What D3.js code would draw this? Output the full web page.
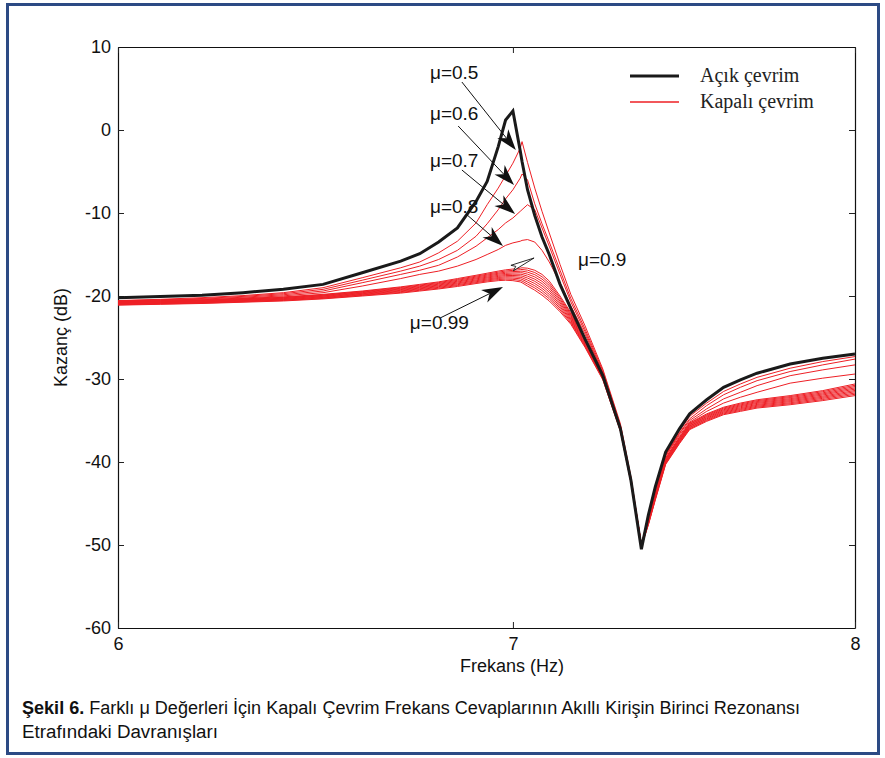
<!DOCTYPE html>
<html>
<head>
<meta charset="UTF-8">
<title>Şekil 6</title>
<style type="text/css">
	body {
		margin: 0;
		background: #fff;
	}
	.chartBox {
		width: 885px;
		height: 758px;
		position: relative;
	}
</style>
</head>
<body>
<div class="chartBox"></div>

<script src="https://cdn.jsdelivr.net/npm/d3@7/dist/d3.min.js"></script>
<script type="text/javascript">
	//frekans noktalari (Hz)
	var freqs = [6.0, 6.1, 6.2, 6.3, 6.4, 6.5, 6.6, 6.7, 6.75, 6.8, 6.85, 6.9, 6.93, 6.96, 6.98, 7.0,
		7.02, 7.025, 7.04, 7.06, 7.08, 7.1, 7.13, 7.16, 7.2, 7.25, 7.3, 7.33, 7.36, 7.38, 7.4,
		7.43, 7.47, 7.5, 7.55, 7.6, 7.65, 7.7, 7.8, 7.9, 8.0];

	//acik cevrim kazanci (dB)
	var acikCevrim = [-20.2, -20.05, -19.9, -19.6, -19.2, -18.6, -17.2, -15.8, -14.9, -13.5, -11.8, -8.6, -6.2, -2.0, 1.2, 2.3,
		-2.5, -3.8, -7.2, -10.3, -12.9, -15.0, -18.6, -21.5, -25.2, -29.6, -36.0, -42.2, -50.5, -46.4, -43.0,
		-38.8, -36.0, -34.2, -32.5, -31.0, -30.1, -29.3, -28.2, -27.5, -27.0];

	//kapali cevrim kazanci, her mu icin (dB)
	var mu050 = [-20.55, -20.4, -20.2, -19.95, -19.6, -19.0, -17.8, -16.6, -15.9, -14.8, -13.4, -11.2, -9.0, -7.0, -5.5, -4.0,
		-2.2, -1.4, -3.9, -7.0, -9.8, -12.4, -16.2, -19.8, -23.6, -28.8, -35.4, -41.8, -49.9, -46.6, -43.3,
		-39.0, -36.3, -34.5, -32.9, -31.5, -30.6, -29.8, -28.7, -27.9, -27.3];
	var mu060 = [-20.58, -20.45, -20.3, -20.05, -19.72, -19.2, -18.1, -17.0, -16.4, -15.6, -14.5, -12.8, -11.3, -9.6, -8.3, -7.2,
		-5.8, -5.3, -6.0, -8.9, -11.3, -13.5, -16.9, -20.3, -24.0, -29.0, -35.6, -41.9, -50.0, -46.7, -43.4,
		-39.1, -36.5, -34.8, -33.2, -31.9, -31.0, -30.2, -29.1, -28.3, -27.6];
	var mu070 = [-20.62, -20.5, -20.38, -20.15, -19.85, -19.4, -18.4, -17.4, -16.9, -16.3, -15.3, -14.0, -13.0, -12.0, -11.2, -10.6,
		-9.8, -9.6, -9.0, -9.6, -11.8, -14.0, -17.4, -20.7, -24.3, -29.2, -35.7, -42.0, -50.0, -46.8, -43.5,
		-39.2, -36.6, -35.0, -33.6, -32.4, -31.6, -30.8, -29.6, -28.9, -28.3];
	var mu080 = [-20.66, -20.55, -20.45, -20.25, -19.98, -19.6, -18.8, -17.9, -17.4, -17.0, -16.4, -15.6, -15.0, -14.4, -13.9, -13.6,
		-13.4, -13.3, -13.2, -13.5, -14.5, -15.9, -18.4, -21.2, -24.6, -29.3, -35.8, -42.1, -50.0, -46.9, -43.6,
		-39.3, -36.8, -35.2, -33.9, -32.9, -32.2, -31.6, -30.5, -29.9, -29.4];
	var mu090 = [-20.7, -20.6, -20.5, -20.3, -20.1, -19.8, -19.4, -18.9, -18.6, -18.3, -17.9, -17.5, -17.25, -17.0, -16.85, -16.75,
		-16.65, -16.6, -16.65, -16.9, -17.4, -18.2, -20.0, -22.0, -25.1, -29.4, -35.9, -42.1, -49.9, -47.0, -43.8,
		-39.5, -37.0, -35.3, -34.2, -33.4, -32.9, -32.5, -32.0, -31.4, -30.6];
	var mu091 = [-20.74, -20.64, -20.54, -20.35, -20.16, -19.86, -19.47, -18.98, -18.69, -18.39, -18.01, -17.61, -17.37, -17.13, -16.99, -16.91,
		-16.83, -16.8, -16.89, -17.17, -17.68, -18.47, -20.21, -22.16, -25.22, -29.48, -35.94, -42.14, -49.93, -47.07, -43.89,
		-39.59, -37.09, -35.39, -34.3, -33.5, -33.01, -32.61, -32.12, -31.53, -30.76];
	var mu092 = [-20.79, -20.69, -20.59, -20.4, -20.21, -19.92, -19.53, -19.07, -18.78, -18.49, -18.11, -17.72, -17.48, -17.26, -17.13, -17.06,
		-17.02, -17.0, -17.13, -17.43, -17.96, -18.73, -20.42, -22.31, -25.34, -29.56, -35.99, -42.19, -49.97, -47.13, -43.98,
		-39.68, -37.18, -35.48, -34.4, -33.6, -33.12, -32.72, -32.24, -31.67, -30.91];
	var mu093 = [-20.83, -20.73, -20.63, -20.45, -20.27, -19.98, -19.6, -19.15, -18.87, -18.58, -18.22, -17.83, -17.6, -17.38, -17.27, -17.22,
		-17.2, -17.2, -17.37, -17.7, -18.23, -19.0, -20.63, -22.47, -25.47, -29.63, -36.03, -42.23, -50.0, -47.2, -44.07,
		-39.77, -37.27, -35.57, -34.5, -33.7, -33.23, -32.83, -32.37, -31.8, -31.07];
	var mu094 = [-20.88, -20.78, -20.68, -20.5, -20.32, -20.04, -19.67, -19.23, -18.96, -18.68, -18.32, -17.94, -17.72, -17.51, -17.41, -17.37,
		-17.38, -17.4, -17.61, -17.97, -18.51, -19.27, -20.84, -22.62, -25.59, -29.71, -36.08, -42.28, -50.03, -47.27, -44.16,
		-39.86, -37.36, -35.66, -34.6, -33.8, -33.34, -32.94, -32.49, -31.93, -31.22];
	var mu095 = [-20.92, -20.82, -20.72, -20.55, -20.38, -20.11, -19.73, -19.32, -19.04, -18.77, -18.43, -18.06, -17.83, -17.64, -17.54, -17.53,
		-17.57, -17.6, -17.84, -18.23, -18.79, -19.53, -21.06, -22.78, -25.71, -29.79, -36.12, -42.32, -50.07, -47.33, -44.24,
		-39.94, -37.44, -35.74, -34.7, -33.9, -33.46, -33.06, -32.61, -32.07, -31.38];
	var mu096 = [-20.97, -20.87, -20.77, -20.6, -20.43, -20.17, -19.8, -19.4, -19.13, -18.87, -18.53, -18.17, -17.95, -17.77, -17.68, -17.68,
		-17.75, -17.8, -18.08, -18.5, -19.07, -19.8, -21.27, -22.93, -25.83, -29.87, -36.17, -42.37, -50.1, -47.4, -44.33,
		-40.03, -37.53, -35.83, -34.8, -34.0, -33.57, -33.17, -32.73, -32.2, -31.53];
	var mu097 = [-21.01, -20.91, -20.81, -20.65, -20.49, -20.23, -19.87, -19.48, -19.22, -18.96, -18.64, -18.28, -18.07, -17.89, -17.82, -17.84,
		-17.93, -18.0, -18.32, -18.77, -19.34, -20.07, -21.48, -23.09, -25.96, -29.94, -36.21, -42.41, -50.13, -47.47, -44.42,
		-40.12, -37.62, -35.92, -34.9, -34.1, -33.68, -33.28, -32.86, -32.33, -31.69];
	var mu098 = [-21.06, -20.96, -20.86, -20.7, -20.54, -20.29, -19.93, -19.57, -19.31, -19.06, -18.74, -18.39, -18.18, -18.02, -17.96, -17.99,
		-18.12, -18.2, -18.56, -19.03, -19.62, -20.33, -21.69, -23.24, -26.08, -30.02, -36.26, -42.46, -50.17, -47.53, -44.51,
		-40.21, -37.71, -36.01, -35.0, -34.2, -33.79, -33.39, -32.98, -32.47, -31.84];
	var mu099 = [-21.1, -21.0, -20.9, -20.75, -20.6, -20.35, -20.0, -19.65, -19.4, -19.15, -18.85, -18.5, -18.3, -18.15, -18.1, -18.15,
		-18.3, -18.4, -18.8, -19.3, -19.9, -20.6, -21.9, -23.4, -26.2, -30.1, -36.3, -42.5, -50.2, -47.6, -44.6,
		-40.3, -37.8, -36.1, -35.1, -34.3, -33.9, -33.5, -33.1, -32.6, -32.0];

	var kapaliCevrim = [mu050, mu060, mu070, mu080, mu090, mu091, mu092, mu093, mu094,
		mu095, mu096, mu097, mu098, mu099];

	//eksen etiketleri
	var xTicks = [6, 7, 8];
	var yTicks = [10, 0, -10, -20, -30, -40, -50, -60];

	//mu ok etiketleri (veri koordinatlarinda)
	var muNotes = [
		{ text: "\u03bc=0.5", tx: 6.777, ty: 6.14, x1: 6.862, y1: 5.78, x2: 7.008, y2: -2.41, head: "dolu" },
		{ text: "\u03bc=0.6", tx: 6.777, ty: 1.2, x1: 6.852, y1: 0.48, x2: 7.003, y2: -6.63, head: "dolu" },
		{ text: "\u03bc=0.7", tx: 6.777, ty: -4.46, x1: 6.862, y1: -4.82, x2: 7.006, y2: -10.12, head: "dolu" },
		{ text: "\u03bc=0.8", tx: 6.777, ty: -10.0, x1: 6.873, y1: -10.12, x2: 6.973, y2: -13.98, head: "dolu" },
		{ text: "\u03bc=0.9", tx: 7.18, ty: -16.39, x1: 6.998, y1: -16.63, x2: 7.058, y2: -15.42, head: "bos" },
		{ text: "\u03bc=0.99", tx: 6.724, ty: -23.98, x1: 6.804, y1: -22.65, x2: 6.973, y2: -18.92, head: "dolu" }
	];

	var width = 885;
	var height = 758;
	//cizim alani kenarlari
	var padL = 118, padR = 855, padT = 47, padB = 628;
	var red = "#ee1f25";
	var sans = "'Liberation Sans', Arial, Helvetica, sans-serif";
	var serif = "'Liberation Serif', 'Times New Roman', serif";

	var svg = d3.select(".chartBox")
		.append("svg")
		.attr("width", width)
		.attr("height", height)
		.attr("font-family", sans);

	svg.append("rect")
		.attr("x", 0).attr("y", 0)
		.attr("width", width).attr("height", height)
		.attr("fill", "#fff");

	//cerceve
	svg.append("rect")
		.attr("x", 7.5).attr("y", 4.5)
		.attr("width", 871).attr("height", 749)
		.attr("fill", "none")
		.attr("stroke", "#2c4a84")
		.attr("stroke-width", 3);

	var x = d3.scaleLog().domain([6, 8]).range([padL, padR]);
	var y = d3.scaleLinear().domain([-60, 10]).range([padB, padT]);
	var plain = function(d) { return String(d); };

	//eksenler, tikler iceri dogru
	var gLeft = svg.append("g")
		.attr("transform", "translate(" + padL + ",0)")
		.call(d3.axisLeft(y).tickValues(yTicks).tickSize(-6).tickSizeOuter(0).tickPadding(7).tickFormat(plain));
	var gRight = svg.append("g")
		.attr("transform", "translate(" + padR + ",0)")
		.call(d3.axisRight(y).tickValues(yTicks).tickSize(-6).tickSizeOuter(0).tickFormat(""));
	var gBottom = svg.append("g")
		.attr("transform", "translate(0," + padB + ")")
		.call(d3.axisBottom(x).tickValues(xTicks).tickSize(-6).tickSizeOuter(0).tickPadding(8).tickFormat(plain));
	var gTop = svg.append("g")
		.attr("transform", "translate(0," + padT + ")")
		.call(d3.axisTop(x).tickValues(xTicks).tickSize(-6).tickSizeOuter(0).tickFormat(""));

	[gLeft, gRight, gBottom, gTop].forEach(function(g) {
		g.attr("font-family", sans);
		g.selectAll("text").attr("font-size", 18).attr("fill", "#111");
		g.selectAll("line").attr("stroke", "#222");
		g.select(".domain").attr("stroke", "#111").attr("stroke-width", 1.2);
	});
	gBottom.selectAll("text").attr("dy", "0.75em");

	//eksen basliklari
	svg.append("text")
		.attr("x", 512).attr("y", 672)
		.attr("text-anchor", "middle")
		.attr("font-size", 18).attr("fill", "#111")
		.text("Frekans (Hz)");
	svg.append("text")
		.attr("transform", "translate(67," + ((padT + padB) / 2) + ") rotate(-90)")
		.attr("text-anchor", "middle")
		.attr("font-size", 18).attr("fill", "#111")
		.text("Kazanç (dB)");

	//egriler
	var line = d3.line()
		.x(function(d, i) { return x(freqs[i]); })
		.y(function(d) { return y(d); });

	svg.append("g").selectAll("path")
		.data(kapaliCevrim)
		.enter()
		.append("path")
		.attr("d", line)
		.attr("fill", "none")
		.attr("stroke", red)
		.attr("stroke-width", 1);

	svg.append("path")
		.attr("d", line(acikCevrim))
		.attr("fill", "none")
		.attr("stroke", "#1a1a1a")
		.attr("stroke-width", 3)
		.attr("stroke-linejoin", "miter");

	//ok etiketleri
	var notes = svg.append("g");
	muNotes.forEach(function(n) {
		notes.append("text")
			.attr("x", x(n.tx)).attr("y", y(n.ty))
			.attr("font-size", 19).attr("fill", "#111")
			.text(n.text);

		var px1 = x(n.x1), py1 = y(n.y1), px2 = x(n.x2), py2 = y(n.y2);
		var a = Math.atan2(py2 - py1, px2 - px1) * 180 / Math.PI;
		var len = Math.sqrt((px2 - px1) * (px2 - px1) + (py2 - py1) * (py2 - py1));
		if (n.head === "dolu") {
			var L = 21;
			var k = (len - L + 6) / len;
			notes.append("line")
				.attr("x1", px1).attr("y1", py1)
				.attr("x2", px1 + (px2 - px1) * k).attr("y2", py1 + (py2 - py1) * k)
				.attr("stroke", "#111").attr("stroke-width", 1);
			notes.append("path")
				.attr("d", "M0,0L" + (-L) + ",-7L" + (-L + 6) + ",0L" + (-L) + ",7Z")
				.attr("transform", "translate(" + px2 + "," + py2 + ") rotate(" + a + ")")
				.attr("fill", "#111");
		} else {
			notes.append("path")
				.attr("d", "M0,0L" + (-len) + ",-3L" + (-len + 4) + ",0L" + (-len) + ",3Z")
				.attr("transform", "translate(" + px2 + "," + py2 + ") rotate(" + a + ")")
				.attr("fill", "#fff")
				.attr("stroke", "#111")
				.attr("stroke-width", 0.8);
		}
	});

	//lejant
	var legend = svg.append("g");
	var legendItems = [
		{ name: "Açık çevrim", color: "#1a1a1a", w: 3, yy: 76 },
		{ name: "Kapalı çevrim", color: red, w: 1.5, yy: 102 }
	];
	legendItems.forEach(function(d) {
		legend.append("line")
			.attr("x1", 630).attr("x2", 679)
			.attr("y1", d.yy).attr("y2", d.yy)
			.attr("stroke", d.color).attr("stroke-width", d.w);
		legend.append("text")
			.attr("x", 700).attr("y", d.yy + 6)
			.attr("font-family", serif)
			.attr("font-size", 20).attr("fill", "#222")
			.text(d.name);
	});

	//sekil alti yazisi
	var cap1 = svg.append("text")
		.attr("x", 22).attr("y", 714)
		.attr("font-size", 18).attr("fill", "#111")
		.attr("textLength", 778)
		.attr("lengthAdjust", "spacingAndGlyphs");
	cap1.append("tspan").attr("font-weight", "bold").text("Şekil 6.");
	cap1.append("tspan").text(" Farklı μ Değerleri İçin Kapalı Çevrim Frekans Cevaplarının Akıllı Kirişin Birinci Rezonansı");

	svg.append("text")
		.attr("x", 22).attr("y", 738)
		.attr("font-size", 18).attr("fill", "#111")
		.attr("textLength", 196)
		.attr("lengthAdjust", "spacingAndGlyphs")
		.text("Etrafındaki Davranışları");
</script>
</body>
</html>
